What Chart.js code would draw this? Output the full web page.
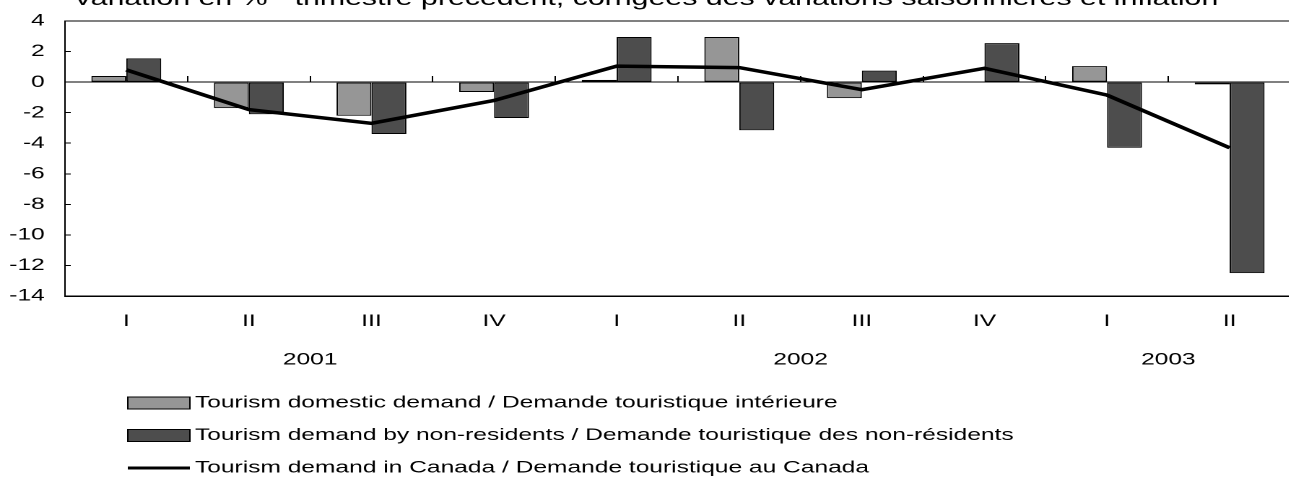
<!DOCTYPE html>
<html>
<head>
<meta charset="utf-8">
<script src="https://cdn.jsdelivr.net/npm/chart.js@4.4.1/dist/chart.umd.min.js"></script>
<style>
  html, body { margin: 0; padding: 0; background: #fff; overflow: hidden; }
  #wrap { width: 1289px; height: 481px; overflow: hidden; position: relative; }
  /* the source picture is stretched sideways, so the canvas is too */
  #chart { display: block; transform: scaleX(1.444); transform-origin: 0 0; }
</style>
</head>
<body>
<div id="wrap">
  <canvas id="chart" width="894" height="481" style="width:894px;height:481px"></canvas>
</div>
<script>
// quarters on the x axis
const quarters = ['I', 'II', 'III', 'IV', 'I', 'II', 'III', 'IV', 'I', 'II'];
// years and the quarter index range each one covers
const years = ['2001', '2002', '2003'];
const yearFirst = [0, 4, 8];
const yearLast = [3, 7, 9];

// % change from previous quarter
const domestic = [0.4, -1.7, -2.2, -0.65, 0.15, 2.95, -1.05, 0, 1.05, -0.15];
const nonResidents = [1.55, -2.1, -3.4, -2.35, 2.95, -3.15, 0.75, 2.55, -4.3, -12.5];
const canada = [0.8, -1.8, -2.7, -1.2, 1.05, 0.95, -0.5, 0.9, -0.85, -4.3];

const yTicks = [4, 2, 0, -2, -4, -6, -8, -10, -12, -14];

const titleText = 'Variation en % - trimestre précédent, corrigées des variations saisonnières et inflation';
const seriesNames = [
  'Tourism domestic demand / Demande touristique intérieure',
  'Tourism demand by non-residents / Demande touristique des non-résidents',
  'Tourism demand in Canada / Demande touristique au Canada'
];

const FONT_FAMILY = '"Liberation Sans", Arial, sans-serif';
Chart.defaults.font.family = FONT_FAMILY;
Chart.defaults.font.size = 17;
Chart.defaults.color = '#000';

// title, year labels and legend drawn on the canvas
const extraText = {
  id: 'extraText',
  afterDraw(chart) {
    const ctx = chart.ctx;
    const xScale = chart.scales.x;
    ctx.save();
    ctx.fillStyle = '#000';

    // title (cut at the top edge like the original)
    ctx.font = '21px ' + FONT_FAMILY;
    ctx.textAlign = 'center';
    ctx.textBaseline = 'alphabetic';
    ctx.fillText(titleText, chart.width / 2, 5);

    // years under the quarters
    ctx.font = '17px ' + FONT_FAMILY;
    ctx.textBaseline = 'middle';
    years.forEach((yr, i) => {
      const cx = (xScale.getPixelForValue(yearFirst[i]) + xScale.getPixelForValue(yearLast[i])) / 2;
      ctx.fillText(yr, cx, 360);
    });

    // legend, one row per series
    ctx.textAlign = 'left';
    chart.data.datasets.forEach((ds, i) => {
      const y = 403 + i * 32.5;
      if (ds.type === 'line') {
        ctx.strokeStyle = ds.borderColor;
        ctx.lineWidth = 3;
        ctx.beginPath();
        ctx.moveTo(88.5, y);
        ctx.lineTo(131.5, y);
        ctx.stroke();
      } else {
        ctx.fillStyle = ds.backgroundColor;
        ctx.fillRect(88.5, y - 6, 43, 12);
        ctx.strokeStyle = '#000';
        ctx.lineWidth = 1;
        ctx.strokeRect(88.5, y - 6, 43, 12);
      }
      ctx.fillStyle = '#000';
      ctx.fillText(ds.label, 135, y);
    });
    ctx.restore();
  }
};

new Chart(document.getElementById('chart'), {
  type: 'bar',
  data: {
    labels: quarters,
    datasets: [
      {
        label: seriesNames[0],
        data: domestic,
        backgroundColor: '#969696',
        borderColor: '#000',
        borderWidth: 1,
        borderSkipped: false,
        categoryPercentage: 0.57,
        barPercentage: 1.0,
        order: 2
      },
      {
        label: seriesNames[1],
        data: nonResidents,
        backgroundColor: '#4d4d4d',
        borderColor: '#000',
        borderWidth: 1,
        borderSkipped: false,
        categoryPercentage: 0.57,
        barPercentage: 1.0,
        order: 2
      },
      {
        type: 'line',
        label: seriesNames[2],
        data: canada,
        borderColor: '#000',
        borderWidth: 3.5,
        pointRadius: 0,
        tension: 0,
        fill: false,
        order: 0
      }
    ]
  },
  options: {
    responsive: false,
    devicePixelRatio: 2,
    animation: false,
    layout: { padding: { top: 21, right: 0, bottom: 0, left: 0 } },
    plugins: {
      legend: { display: false },
      title: { display: false },
      tooltip: { enabled: false }
    },
    scales: {
      x: {
        type: 'category',
        position: 'bottom',
        offset: true,
        grid: { display: false, drawTicks: false },
        border: { display: true, color: '#000', width: 1.5 },
        ticks: { padding: 15, maxRotation: 0, autoSkip: false },
        afterFit: (scale) => { scale.height = 185; }
      },
      // same categories, sitting on the zero line, for the small boundary ticks
      x0: {
        type: 'category',
        position: { y: 0 },
        offset: true,
        grid: { offset: true, drawOnChartArea: false, drawTicks: true, tickLength: -6, color: '#000', tickColor: '#000' },
        border: { display: false },
        ticks: { display: false }
      },
      y: {
        min: -14,
        max: 4,
        afterBuildTicks: (scale) => { scale.ticks = yTicks.map(v => ({ value: v })); },
        grid: {
          drawOnChartArea: true,
          drawTicks: true,
          tickLength: -4,
          tickColor: '#000',
          color: (c) => (c.tick && (c.tick.value === 0 || c.tick.value === 4)) ? '#000' : 'rgba(0,0,0,0)'
        },
        border: { display: true, color: '#000', width: 1 },
        ticks: { padding: 18 },
        afterFit: (scale) => {
          scale.width = 45;
          // the big label padding should not push the plot down
          scale.paddingTop = 0;
          scale.paddingBottom = 0;
        }
      }
    }
  },
  plugins: [extraText]
});
</script>
</body>
</html>
